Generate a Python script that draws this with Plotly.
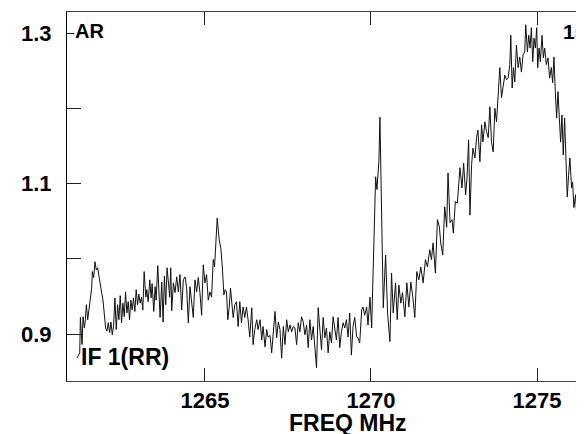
import plotly.graph_objects as go

# Spectrum (frequency in MHz, relative intensity)
freq_mhz = [
    1261.15, 1261.23, 1261.25, 1261.30, 1261.33, 1261.37, 1261.40, 1261.43, 1261.47, 1261.51,
    1261.55, 1261.59, 1261.61, 1261.65, 1261.69, 1261.73, 1261.77, 1261.81, 1261.85, 1261.89,
    1261.93, 1261.97, 1262.01, 1262.05, 1262.09, 1262.13, 1262.17, 1262.21, 1262.25, 1262.29,
    1262.33, 1262.37, 1262.41, 1262.45, 1262.49, 1262.53, 1262.57, 1262.61, 1262.65, 1262.69,
    1262.73, 1262.77, 1262.81, 1262.85, 1262.89, 1262.93, 1262.97, 1263.01, 1263.05, 1263.09,
    1263.13, 1263.17, 1263.22, 1263.25, 1263.29, 1263.34, 1263.38, 1263.41, 1263.46, 1263.50,
    1263.53, 1263.58, 1263.62, 1263.65, 1263.70, 1263.74, 1263.78, 1263.82, 1263.86, 1263.90,
    1263.94, 1263.97, 1264.00, 1264.05, 1264.10, 1264.15, 1264.20, 1264.25, 1264.30, 1264.35,
    1264.40, 1264.45, 1264.50, 1264.55, 1264.60, 1264.65, 1264.70, 1264.75, 1264.80, 1264.85,
    1264.90, 1264.95, 1265.00, 1265.05, 1265.10, 1265.15, 1265.20, 1265.25, 1265.29, 1265.33,
    1265.37, 1265.43, 1265.48, 1265.53, 1265.57, 1265.61, 1265.65, 1265.69, 1265.73, 1265.77,
    1265.81, 1265.85, 1265.90, 1265.95, 1266.00, 1266.05, 1266.10, 1266.15, 1266.20, 1266.25,
    1266.30, 1266.35, 1266.41, 1266.45, 1266.50, 1266.56, 1266.60, 1266.66, 1266.71, 1266.75,
    1266.81, 1266.86, 1266.90, 1266.96, 1267.01, 1267.06, 1267.11, 1267.16, 1267.21, 1267.26,
    1267.31, 1267.36, 1267.41, 1267.46, 1267.51, 1267.56, 1267.61, 1267.66, 1267.71, 1267.76,
    1267.81, 1267.86, 1267.91, 1267.96, 1268.01, 1268.06, 1268.11, 1268.16, 1268.21, 1268.26,
    1268.31, 1268.36, 1268.41, 1268.46, 1268.51, 1268.56, 1268.61, 1268.66, 1268.71, 1268.76,
    1268.81, 1268.86, 1268.91, 1268.96, 1269.01, 1269.06, 1269.11, 1269.16, 1269.21, 1269.26,
    1269.31, 1269.36, 1269.41, 1269.46, 1269.51, 1269.57, 1269.61, 1269.66, 1269.72, 1269.76,
    1269.81, 1269.87, 1269.91, 1269.97, 1270.02, 1270.06, 1270.10, 1270.14, 1270.18, 1270.24,
    1270.27, 1270.31, 1270.37, 1270.44, 1270.50, 1270.57, 1270.62, 1270.67, 1270.74, 1270.79,
    1270.84, 1270.90, 1270.95, 1271.02, 1271.08, 1271.14, 1271.20, 1271.26, 1271.32, 1271.38,
    1271.44, 1271.50, 1271.57, 1271.64, 1271.70, 1271.77, 1271.82, 1271.87, 1271.94, 1272.00,
    1272.06, 1272.10, 1272.16, 1272.22, 1272.28, 1272.32, 1272.38, 1272.44, 1272.48, 1272.54,
    1272.60, 1272.68, 1272.74, 1272.79, 1272.85, 1272.89, 1272.94, 1272.98, 1273.03, 1273.07,
    1273.13, 1273.18, 1273.22, 1273.28, 1273.33, 1273.37, 1273.43, 1273.48, 1273.53, 1273.58,
    1273.63, 1273.68, 1273.73, 1273.78, 1273.83, 1273.88, 1273.93, 1273.98, 1274.03, 1274.08,
    1274.13, 1274.18, 1274.21, 1274.25, 1274.29, 1274.33, 1274.38, 1274.43, 1274.48, 1274.53,
    1274.58, 1274.63, 1274.66, 1274.71, 1274.75, 1274.79, 1274.83, 1274.87, 1274.91, 1274.95,
    1274.99, 1275.02, 1275.06, 1275.10, 1275.15, 1275.19, 1275.23, 1275.28, 1275.33, 1275.38,
    1275.43, 1275.47, 1275.51, 1275.55, 1275.59, 1275.63, 1275.67, 1275.71, 1275.75, 1275.79,
    1275.83, 1275.87, 1275.91, 1275.95, 1275.99, 1276.04, 1276.07, 1276.11, 1276.16, 1276.19,
    1276.23, 1276.28, 1276.31, 1276.35, 1276.40, 1276.45,
]

intensity = [
    0.868, 0.875, 0.922, 0.886, 0.923, 0.908, 0.919, 0.939, 0.919, 0.932,
    0.945, 0.961, 0.983, 0.975, 0.996, 0.985, 0.988, 0.975, 0.968, 0.955,
    0.945, 0.924, 0.908, 0.904, 0.915, 0.902, 0.916, 0.899, 0.911, 0.948,
    0.906, 0.939, 0.919, 0.951, 0.915, 0.941, 0.923, 0.956, 0.928, 0.943,
    0.919, 0.945, 0.932, 0.948, 0.930, 0.959, 0.939, 0.953, 0.941, 0.949,
    0.932, 0.983, 0.949, 0.959, 0.943, 0.972, 0.948, 0.967, 0.930, 0.963,
    0.945, 0.991, 0.952, 0.922, 0.969, 0.916, 0.977, 0.939, 0.988, 0.972,
    0.949, 0.988, 0.931, 0.968, 0.955, 0.976, 0.956, 0.979, 0.932, 0.972,
    0.976, 0.961, 0.915, 0.963, 0.945, 0.922, 0.972, 0.956, 0.975, 0.955,
    0.925, 0.992, 0.968, 0.979, 0.945, 0.956, 0.949, 0.999, 0.989, 1.021,
    1.054, 1.025, 1.014, 0.985, 0.952, 0.959, 0.956, 0.919, 0.935, 0.961,
    0.936, 0.922, 0.939, 0.943, 0.910, 0.943, 0.915, 0.936, 0.922, 0.936,
    0.919, 0.896, 0.935, 0.886, 0.906, 0.919, 0.906, 0.919, 0.892, 0.910,
    0.883, 0.906, 0.896, 0.898, 0.875, 0.906, 0.930, 0.895, 0.916, 0.906,
    0.868, 0.910, 0.886, 0.919, 0.903, 0.912, 0.903, 0.910, 0.908, 0.886,
    0.915, 0.903, 0.923, 0.916, 0.899, 0.912, 0.882, 0.919, 0.892, 0.910,
    0.879, 0.855, 0.935, 0.903, 0.879, 0.922, 0.895, 0.908, 0.875, 0.903,
    0.888, 0.923, 0.910, 0.892, 0.922, 0.882, 0.903, 0.915, 0.908, 0.919,
    0.896, 0.928, 0.872, 0.910, 0.922, 0.896, 0.895, 0.888, 0.932, 0.936,
    0.925, 0.936, 0.912, 0.949, 0.908, 0.981, 1.038, 1.109, 1.092, 1.131,
    1.188, 1.078, 0.935, 1.005, 0.928, 0.890, 0.981, 0.928, 0.968, 0.919,
    0.965, 0.941, 0.955, 0.923, 0.968, 0.936, 0.969, 0.949, 0.922, 0.983,
    0.972, 0.989, 0.968, 0.999, 0.989, 1.012, 0.999, 1.021, 0.981, 1.052,
    1.042, 1.021, 1.005, 1.069, 1.042, 1.114, 1.048, 1.052, 1.034, 1.076,
    1.074, 1.121, 1.094, 1.127, 1.085, 1.107, 1.158, 1.058, 1.125, 1.147,
    1.134, 1.161, 1.171, 1.129, 1.178, 1.155, 1.182, 1.169, 1.161, 1.202,
    1.155, 1.142, 1.200, 1.182, 1.222, 1.254, 1.214, 1.227, 1.244, 1.238,
    1.240, 1.258, 1.297, 1.227, 1.254, 1.235, 1.284, 1.254, 1.268, 1.248,
    1.271, 1.275, 1.311, 1.275, 1.297, 1.280, 1.307, 1.262, 1.293, 1.280,
    1.307, 1.254, 1.280, 1.262, 1.297, 1.267, 1.280, 1.258, 1.267, 1.240,
    1.254, 1.234, 1.268, 1.222, 1.187, 1.222, 1.195, 1.155, 1.191, 1.138,
    1.187, 1.138, 1.082, 1.111, 1.134, 1.094, 1.102, 1.068, 1.085, 1.062,
    1.078, 1.029, 1.022, 1.041, 0.992, 0.979,
]

x_tick_vals = [1265, 1270, 1275]
x_tick_text = ["1265", "1270", "1275"]
y_tick_vals = [0.9, 1.0, 1.1, 1.2, 1.3]
y_tick_text = ["0.9", "", "1.1", "", "1.3"]

FONT = "Liberation Sans, Arial, sans-serif"

fig = go.Figure()
fig.add_trace(go.Scatter(
    x=freq_mhz, y=intensity, mode="lines",
    line=dict(color="#111111", width=1),
    showlegend=False, hoverinfo="skip",
))

# The page body adds an 8px offset, so the figure is sized to end at the window edge.
fig.update_layout(
    width=576, height=426,
    margin=dict(l=59, r=0, t=4, b=53),
    paper_bgcolor="white", plot_bgcolor="white",
    font=dict(family=FONT, size=22, color="black"),
)

fig.update_xaxes(
    range=[1260.847, 1276.414],
    tickvals=x_tick_vals, ticktext=x_tick_text,
    ticks="inside", ticklen=13, tickwidth=1, tickcolor="#222",
    showline=True, linecolor="#444", linewidth=1, mirror="ticks",
    showgrid=False, zeroline=False,
    tickfont=dict(family=FONT, size=22, color="black", weight="bold"),
    ticklabelstandoff=0,
)
fig.update_yaxes(
    range=[0.8376, 1.3279],
    tickvals=y_tick_vals, ticktext=y_tick_text,
    ticks="inside", ticklen=14, tickwidth=1, tickcolor="#222",
    showline=True, linecolor="black", linewidth=1, mirror=False,
    showgrid=False, zeroline=False,
    tickfont=dict(family=FONT, size=22, color="black", weight="bold"),
    ticklabelstandoff=10,
)

fig.add_annotation(text="AR", xref="paper", yref="paper", x=0.0135, y=0.948,
                   xanchor="left", yanchor="middle", showarrow=False,
                   font=dict(family=FONT, size=20, color="black", weight="bold"),
                   bgcolor="white", borderpad=0)
fig.add_annotation(text="15", xref="paper", yref="paper", x=0.9555, y=0.9485,
                   xanchor="left", yanchor="middle", showarrow=False,
                   font=dict(family=FONT, size=21, color="black", weight="bold"))
fig.add_annotation(text="IF 1(RR)", xref="paper", yref="paper", x=0.0232, y=0.065,
                   xanchor="left", yanchor="middle", showarrow=False,
                   font=dict(family=FONT, size=23, color="black", weight="bold"))
fig.add_annotation(text="FREQ MHz", xref="paper", yref="paper", x=0.5426, y=-0.114,
                   xanchor="center", yanchor="middle", showarrow=False,
                   font=dict(family=FONT, size=23, color="black", weight="bold"))

fig.write_html("out.html")
